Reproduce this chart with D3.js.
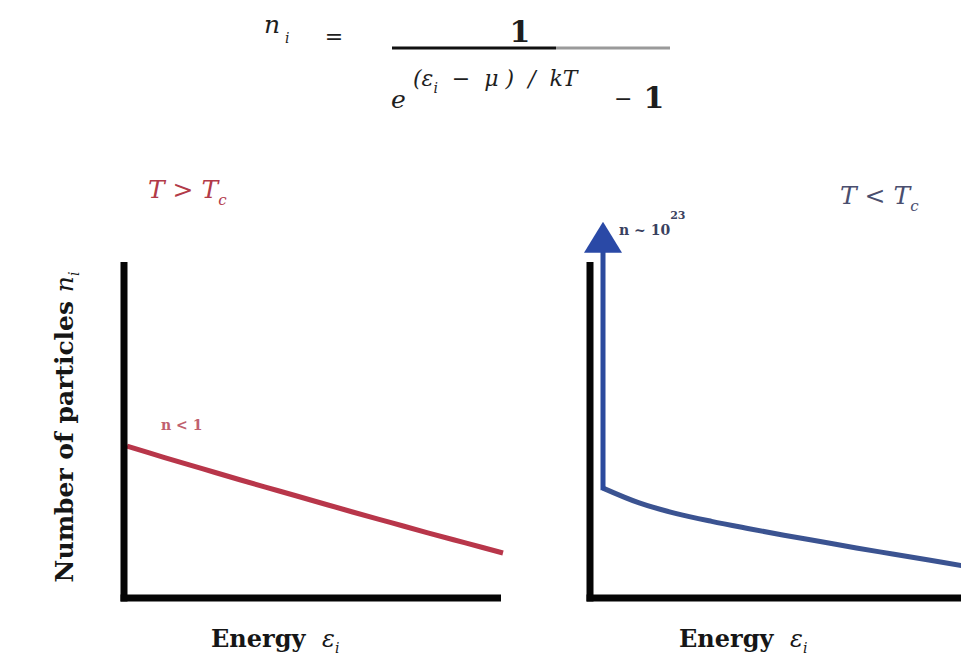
<!DOCTYPE html>
<html>
<head>
<meta charset="utf-8">
<script src="https://cdn.jsdelivr.net/npm/d3@7/dist/d3.min.js"></script>
<style>
  html, body { margin: 0; padding: 0; background: #fff; }
  svg { display: block; }
  text { font-family: "DejaVu Serif", "Liberation Serif", serif; }
</style>
</head>
<body>
<svg id="chart" width="961" height="663"></svg>
<script>
// ---- data ----
const energy      = [0, 0.1, 0.2, 0.3, 0.4, 0.5, 0.6, 0.7, 0.8, 0.9, 1.0];
const nAboveTc    = [0.452, 0.418, 0.385, 0.352, 0.320, 0.288, 0.256, 0.225, 0.194, 0.164, 0.134];
const nBelowTc    = [0.327, 0.283, 0.252, 0.228, 0.207, 0.187, 0.168, 0.149, 0.131, 0.113, 0.095];
const groundState = [0.327, 1.12];   // condensate spike at energy 0 (from curve start to arrow tip)
const panelTitles = ["T > T", "T < T"];
const xLabel = "Energy";
const yLabel = "Number of particles ";
const noteAbove = "n < 1";
const noteBelow = "n ~ 10";

const svg = d3.select("#chart");

// ---- scales ----
const y  = d3.scaleLinear().domain([0, 1]).range([598, 262]);
const xL = d3.scaleLinear().domain([0, 1]).range([127, 503]);
const xR = d3.scaleLinear().domain([0, 1]).range([603, 965]);

const line = (xs) => d3.line()
  .x((d, i) => xs(energy[i]))
  .y(d => y(d))
  .curve(d3.curveCatmullRom.alpha(0.5));

// ---- formula ----
const f = svg.append("g").attr("fill", "#1e1e1e");
f.append("text").attr("x", 264).attr("y", 33)
  .attr("font-size", 25).attr("font-style", "italic").text("n");
f.append("text").attr("x", 285).attr("y", 43).attr("font-size", 14)
  .attr("font-style", "italic").text("i");
f.append("text").attr("x", 334).attr("y", 44).attr("text-anchor", "middle")
  .attr("font-size", 22).attr("font-family", "DejaVu Sans").text("=");
f.append("text").attr("x", 520).attr("y", 42).attr("text-anchor", "middle")
  .attr("font-size", 30).attr("font-weight", "bold").attr("font-family", "DejaVu Sans").text("1");
f.append("line").attr("x1", 392).attr("x2", 556).attr("y1", 48).attr("y2", 48)
  .attr("stroke", "#111").attr("stroke-width", 3);
f.append("line").attr("x1", 556).attr("x2", 670).attr("y1", 48).attr("y2", 48)
  .attr("stroke", "#9a9a9a").attr("stroke-width", 3);
f.append("text").attr("x", 391).attr("y", 108).attr("font-size", 25)
  .attr("font-style", "italic").text("e");
const ex = f.append("text").attr("x", 413).attr("y", 86).attr("font-size", 22)
  .attr("font-style", "italic").style("white-space", "pre");
ex.append("tspan").text("(ε");
ex.append("tspan").attr("dy", 7).attr("font-size", 14).text("i");
ex.append("tspan").attr("dy", -7).text("  −  μ )  /  kT");
f.append("text").attr("x", 614).attr("y", 106).attr("font-size", 22)
  .attr("font-family", "DejaVu Sans").text("−");
f.append("text").attr("x", 654).attr("y", 108).attr("text-anchor", "middle")
  .attr("font-size", 30).attr("font-weight", "bold").attr("font-family", "DejaVu Sans").text("1");

// ---- panel titles ----
function title(x, yy, s, color) {
  const t = svg.append("text").attr("x", x).attr("y", yy).attr("font-size", 25)
    .attr("font-style", "italic").attr("fill", color);
  t.append("tspan").text(s);
  t.append("tspan").attr("dy", 7).attr("font-size", 15).text("c");
}
title(148, 198, panelTitles[0], "#b23a48");
title(840, 204, panelTitles[1], "#4a4e6e");

// ---- axes (no ticks) ----
function axes(g, axisX, xEnd) {
  g.append("line").attr("x1", axisX).attr("x2", axisX)
    .attr("y1", y(1)).attr("y2", y(0) + 3.5)
    .attr("stroke", "#050505").attr("stroke-width", 7);
  g.append("line").attr("x1", axisX - 3.5).attr("x2", xEnd)
    .attr("y1", y(0)).attr("y2", y(0))
    .attr("stroke", "#050505").attr("stroke-width", 7);
}
const gL = svg.append("g");
const gR = svg.append("g");

// left panel curve
gL.append("path").datum(nAboveTc).attr("d", line(xL))
  .attr("fill", "none").attr("stroke", "#b8364a").attr("stroke-width", 5);
axes(gL, xL(0) - 3, xL(1) - 2);

// right panel
axes(gR, xR(0) - 13, 961);
gR.append("path").datum(nBelowTc).attr("d", line(xR))
  .attr("fill", "none").attr("stroke", "#3b5391").attr("stroke-width", 5);
// condensate spike
const tipY = y(groundState[1]);
const headH = 31, headW = 38;
gR.append("line").attr("x1", xR(0)).attr("x2", xR(0))
  .attr("y1", y(groundState[0]) + 2).attr("y2", tipY + headH - 1)
  .attr("stroke", "#2b4a9e").attr("stroke-width", 5);
gR.append("path")
  .attr("d", `M${xR(0)},${tipY} L${xR(0) + headW / 2},${tipY + headH} L${xR(0) - headW / 2},${tipY + headH} Z`)
  .attr("fill", "#2a49a6");

// ---- annotations ----
svg.append("text").attr("x", 161).attr("y", 430).attr("font-size", 14)
  .attr("font-weight", "bold").attr("fill", "#c0606e").text(noteAbove);
const nb = svg.append("text").attr("x", 619).attr("y", 235).attr("font-size", 14)
  .attr("font-weight", "bold").attr("fill", "#3a4160");
nb.append("tspan").text(noteBelow);
nb.append("tspan").attr("dy", -16).attr("font-size", 11).text("23");

// ---- axis labels ----
function xlab(x) {
  const t = svg.append("text").attr("x", x).attr("y", 647).attr("font-size", 24)
    .attr("font-weight", "bold").attr("fill", "#161616").style("white-space", "pre");
  t.append("tspan").text(xLabel + "  ");
  t.append("tspan").attr("font-weight", "normal").attr("font-style", "italic").text("ε");
  t.append("tspan").attr("dy", 6).attr("font-size", 14).attr("font-weight", "normal")
    .attr("font-style", "italic").text("i");
}
xlab(211);
xlab(679);

const yl = svg.append("text")
  .attr("transform", "translate(73,427) rotate(-90)")
  .attr("text-anchor", "middle").attr("font-size", 25)
  .attr("font-weight", "bold").attr("fill", "#161616");
yl.append("tspan").text(yLabel);
yl.append("tspan").attr("font-weight", "normal").attr("font-style", "italic").text("n");
yl.append("tspan").attr("dy", 6).attr("font-size", 14).attr("font-weight", "normal")
  .attr("font-style", "italic").text("i");
</script>
</body>
</html>
